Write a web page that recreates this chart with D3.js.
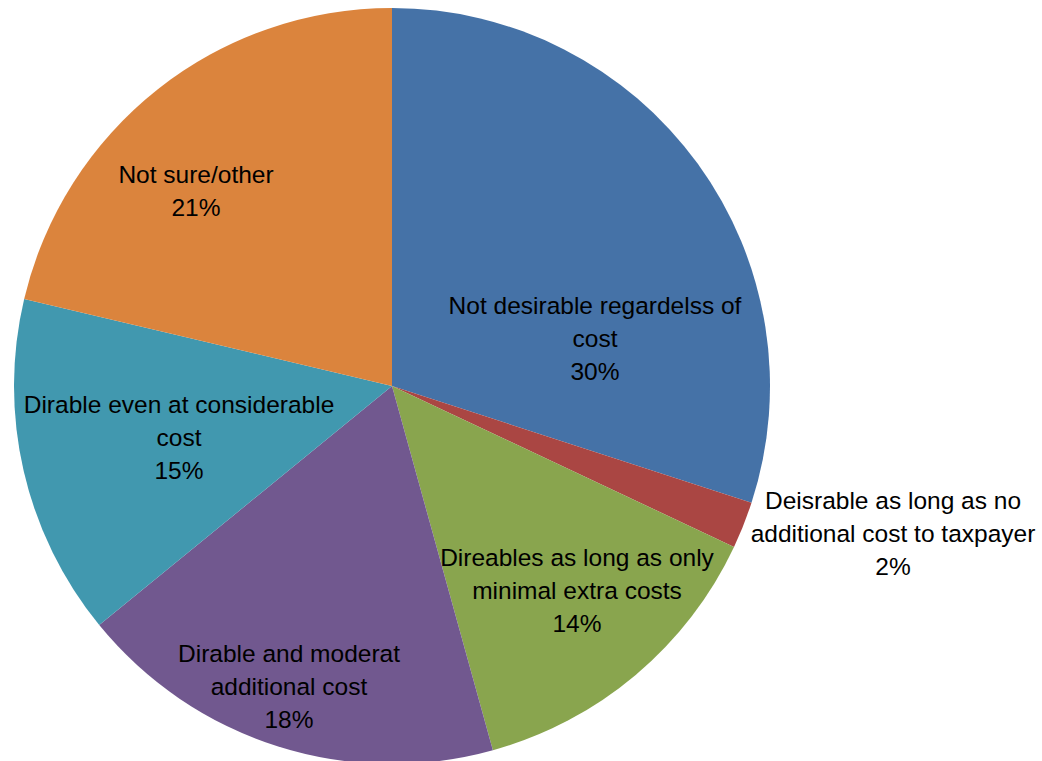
<!DOCTYPE html>
<html>
<head>
<meta charset="utf-8">
<script src="https://cdn.jsdelivr.net/npm/d3@7"></script>
<style>
html,body{margin:0;padding:0;background:#fff;}
svg{display:block;}
text{font-family:"Liberation Sans","DejaVu Sans",sans-serif;}
</style>
</head>
<body>
<svg id="chart" width="1042" height="761"></svg>
<script>
// Data
const categories = [
  "Not desirable regardelss of cost",
  "Deisrable as long as no additional cost to taxpayer",
  "Direables as long as only minimal extra costs",
  "Dirable and moderat additional cost",
  "Dirable even at considerable cost",
  "Not sure/other"
];
const values = [30.0, 2.0, 13.7, 18.4, 14.6, 21.3];
const labelLines = [
  ["Not desirable regardelss of", "cost"],
  ["Deisrable as long as no", "additional cost to taxpayer"],
  ["Direables as long as only", "minimal extra costs"],
  ["Dirable and moderat", "additional cost"],
  ["Dirable even at considerable", "cost"],
  ["Not sure/other"]
];

// Styles / layout
const colors = ["#4572A7", "#AA4643", "#89A54E", "#71588F", "#4198AF", "#DB843D"];
const cx = 392, cy = 386, radius = 378;
// label block centres (layout)
const labelCentres = [[595, 338], [893, 533], [577, 590], [289, 686], [179, 437], [196, 191]];
const lineHeight = 33;
const fontSize = 24.5;

const svg = d3.select("#chart");
const g = svg.append("g").attr("transform", `translate(${cx},${cy})`);

const pie = d3.pie().value(d => d).sort(null);
const arc = d3.arc().innerRadius(0).outerRadius(radius);
const arcs = pie(values);
const total = d3.sum(values);
const pct = d3.format(".0%");

g.selectAll("path.slice")
  .data(arcs)
  .join("path")
  .attr("class", "slice")
  .attr("d", arc)
  .attr("fill", (d, i) => colors[i]);

const labels = svg.append("g");
arcs.forEach((d, i) => {
  const lines = labelLines[i].concat([pct(values[i] / total)]);
  const [lx, ly] = labelCentres[i];
  const top = ly - (lines.length - 1) * lineHeight / 2;
  const t = labels.append("text")
    .attr("text-anchor", "middle")
    .attr("font-size", fontSize)
    .attr("fill", "#000");
  lines.forEach((ln, j) => {
    t.append("tspan")
      .attr("x", lx)
      .attr("y", top + j * lineHeight)
      .attr("dy", "0.35em")
      .text(ln);
  });
});
</script>
</body>
</html>
